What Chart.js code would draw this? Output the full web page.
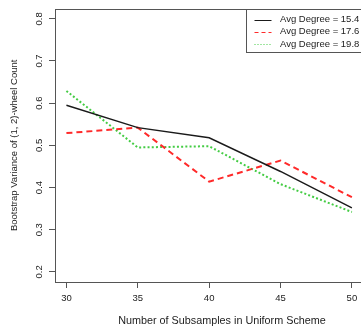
<!DOCTYPE html>
<html>
<head>
<meta charset="utf-8">
<script src="https://cdn.jsdelivr.net/npm/chart.js@4"></script>
<style>
  html, body { margin: 0; padding: 0; background: #fff; overflow: hidden; }
  #wrap { width: 400px; height: 331px; }
</style>
</head>
<body>
<div id="wrap"><canvas id="chart"></canvas></div>
<script>
const subsamples = [30, 35, 40, 45, 50];
const xTicks = [30, 35, 40, 45, 50];
const yTicks = [0.2, 0.3, 0.4, 0.5, 0.6, 0.7, 0.8];
const deg154 = [0.595, 0.542, 0.518, 0.438, 0.352];
const deg176 = [0.529, 0.542, 0.414, 0.464, 0.377];
const deg198 = [0.629, 0.495, 0.498, 0.408, 0.342];
const seriesNames = ['Avg Degree = 15.4', 'Avg Degree = 17.6', 'Avg Degree = 19.8'];

const FONT = "'Liberation Sans', Arial, sans-serif";
const axisGray = '#555';

function pts(vals) {
    return subsamples.map((x, i) => ({ x: x, y: vals[i] }));
}

// box round the plot region, like R's box()
const frame = {
    id: 'frame',
    afterDraw(chart) {
        const a = chart.chartArea, ctx = chart.ctx;
        ctx.save();
        ctx.strokeStyle = axisGray;
        ctx.lineWidth = 1;
        ctx.strokeRect(Math.round(a.left) + 0.5, Math.round(a.top) + 0.5,
            Math.round(a.right - a.left), Math.round(a.bottom - a.top));
        ctx.restore();
    }
};

// topright legend box
const rLegend = {
    id: 'rLegend',
    afterDraw(chart) {
        const a = chart.chartArea, ctx = chart.ctx;
        const x0 = Math.round(a.right - 143) + 0.5, y0 = Math.round(a.top) + 0.5;
        ctx.save();
        ctx.fillStyle = '#fff';
        ctx.fillRect(x0, y0, 143, 43);
        ctx.strokeStyle = axisGray;
        ctx.lineWidth = 1;
        ctx.strokeRect(x0, y0, 143, 43);
        ctx.font = '9.5px ' + FONT;
        ctx.textBaseline = 'middle';
        chart.data.datasets.forEach((ds, i) => {
            const y = y0 + 10 + i * 12.3;
            ctx.strokeStyle = ds.borderColor;
            ctx.lineWidth = 1;
            ctx.setLineDash(i === 0 ? [] : (i === 1 ? [4, 3] : [1, 2]));
            ctx.beginPath();
            ctx.moveTo(x0 + 8, Math.round(y) + 0.5);
            ctx.lineTo(x0 + 25, Math.round(y) + 0.5);
            ctx.stroke();
            ctx.setLineDash([]);
            ctx.fillStyle = '#222';
            ctx.fillText(ds.label, x0 + 33.5, y);
        });
        ctx.restore();
    }
};

new Chart(document.getElementById('chart'), {
    type: 'line',
    data: {
        datasets: [{
            label: seriesNames[0],
            data: pts(deg154),
            borderColor: '#1a1a1a',
            borderWidth: 1.4
        }, {
            label: seriesNames[1],
            data: pts(deg176),
            borderColor: '#ff2a2a',
            borderWidth: 2,
            borderDash: [6, 4]
        }, {
            label: seriesNames[2],
            data: pts(deg198),
            borderColor: '#44cc44',
            borderWidth: 2,
            borderDash: [2, 2.2]
        }]
    },
    options: {
        responsive: true,
        maintainAspectRatio: false,
        animation: false,
        layout: { padding: { top: 7, left: 0, right: 11, bottom: 0 } },
        elements: { point: { radius: 0 }, line: { tension: 0 } },
        plugins: { legend: { display: false }, tooltip: { enabled: false } },
        scales: {
            x: {
                type: 'linear',
                min: 29.2,
                max: 52.6,
                afterBuildTicks: s => { s.ticks = xTicks.map(v => ({ value: v })); },
                afterFit: s => { s.height = 49; },
                border: { display: false },
                grid: { drawOnChartArea: false, tickLength: 6, color: axisGray },
                ticks: { font: { family: FONT, size: 9.5 }, color: '#222', padding: 5, maxRotation: 0 },
                title: {
                    display: true,
                    text: 'Number of Subsamples in Uniform Scheme',
                    font: { family: FONT, size: 10.8 },
                    color: '#222',
                    padding: { top: 0, bottom: 3 }
                }
            },
            y: {
                min: 0.176,
                max: 0.824,
                afterBuildTicks: s => { s.ticks = yTicks.map(v => ({ value: v })); },
                afterFit: s => { s.width = 55; },
                border: { display: false },
                grid: { drawOnChartArea: false, tickLength: 6, color: axisGray },
                ticks: {
                    font: { family: FONT, size: 9.5 },
                    color: '#222',
                    minRotation: 90,
                    maxRotation: 90,
                    crossAlign: 'center',
                    padding: 3,
                    callback: v => v.toFixed(1)
                },
                title: {
                    display: true,
                    text: 'Bootstrap Variance of (1, 2)-wheel Count',
                    font: { family: FONT, size: 9.5 },
                    color: '#222',
                    padding: { top: 9, bottom: 0 }
                }
            }
        }
    },
    plugins: [frame, rLegend]
});
</script>
</body>
</html>
